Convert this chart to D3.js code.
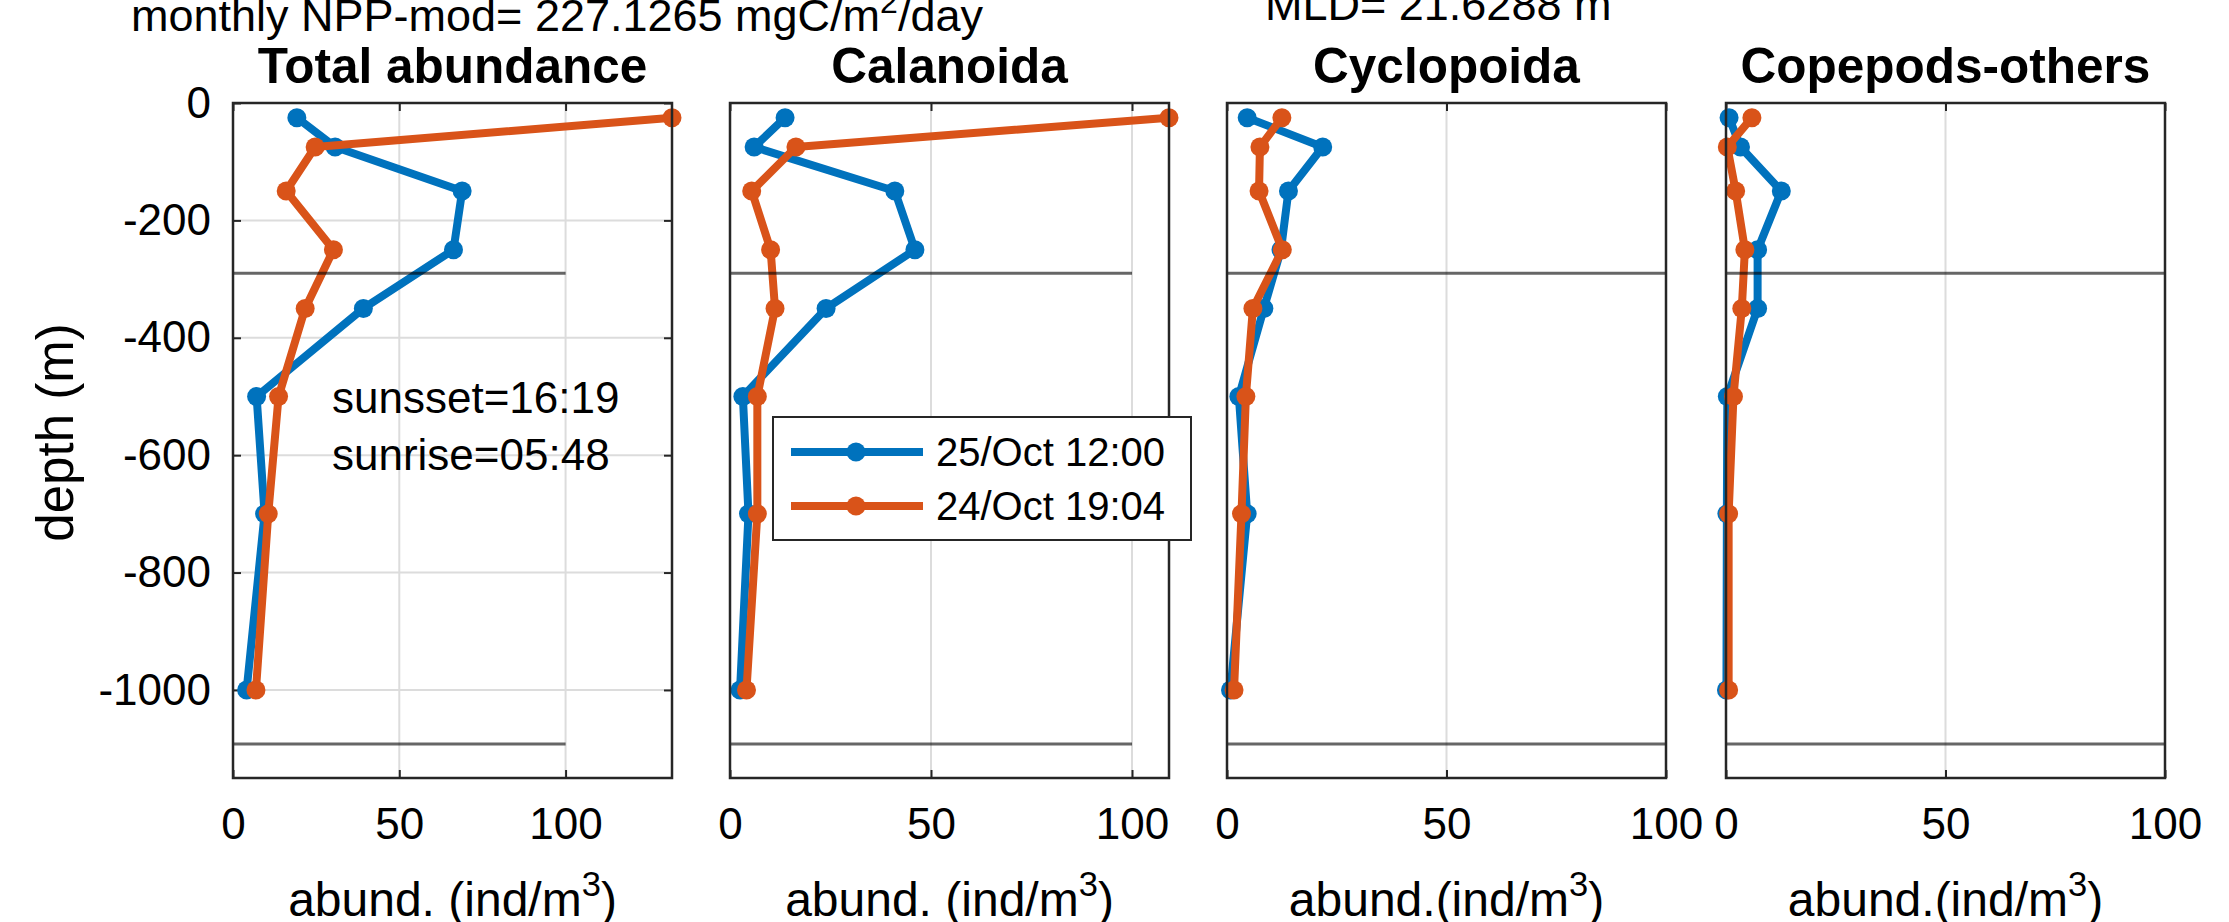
<!DOCTYPE html>
<html><head><meta charset="utf-8">
<script src="https://cdn.jsdelivr.net/npm/d3@7"></script>
<style>
body{margin:0;background:#fff}
svg{display:block}
text{font-family:"Liberation Sans",Arial,Helvetica,sans-serif;fill:#000}
</style>
</head><body><div id="chart"></div>
<script>
// ---------- data ----------
const depths = [25, 75, 150, 250, 350, 500, 700, 1000];
const panelTitles = ["Total abundance", "Calanoida", "Cyclopoida", "Copepods-others"];
const seriesNames = ["25/Oct 12:00", "24/Oct 19:04"];
const totalNoon     = [19.2, 30.7, 68.9, 66.3, 39.2, 7.1, 9.5, 4.1];
const totalEvening  = [132, 24.7, 16.0, 30.2, 21.7, 13.7, 10.6, 6.9];
const calanNoon     = [13.7, 6.0, 41.0, 46.0, 23.9, 3.2, 4.6, 2.5];
const calanEvening  = [109.2, 16.4, 5.4, 10.1, 11.2, 6.8, 6.8, 4.1];
const cycloNoon     = [4.6, 21.8, 14.0, 12.3, 8.4, 2.7, 4.6, 0.8];
const cycloEvening  = [12.5, 7.5, 7.3, 12.6, 5.9, 4.3, 3.3, 1.6];
const otherNoon     = [0.7, 3.3, 12.6, 7.2, 7.2, 0.3, 0.2, 0.1];
const otherEvening  = [5.9, 0.3, 2.2, 4.3, 3.6, 1.7, 0.6, 0.6];
const xMaxes = [132, 109.2, 100, 100];
const xTicks = [0, 50, 100];
const yTicks = [0, -200, -400, -600, -800, -1000];
const yDomain = [-1150, 0];
const refDepths = [-290, -1092];
const refXMax = [100, 100, 100, 100];
const xLabelTexts = ["abund. (ind/m", "abund. (ind/m", "abund.(ind/m", "abund.(ind/m"];
const yLabelText = "depth (m)";
const nppText = ["monthly NPP-mod= 227.1265 mgC/m", "2", "/day"];
const mldText = "MLD= 21.6288 m";
const sunTexts = ["sunsset=16:19", "sunrise=05:48"];

const panelSeries = [
  [totalNoon, totalEvening],
  [calanNoon, calanEvening],
  [cycloNoon, cycloEvening],
  [otherNoon, otherEvening]
];
const colors = ["#0072BD", "#D95319"];

// ---------- layout ----------
const W = 2229, H = 922;
const panelLeft = [233, 730, 1227, 1726];
const panelW = 439;
const axTop = 103, axBottom = 778;
const tickFont = 44, labelFont = 48, yLabelFont = 51, titleFont = 49.5, legendFont = 40;
const axisColor = "#262626";
const lineW = 8, markR = 9.5;
const fmt = d => String(d);   // plain hyphen-minus like the reference

const svg = d3.select("#chart").append("svg").attr("width", W).attr("height", H);

const y = d3.scaleLinear().domain(yDomain).range([axBottom, axTop]);

panelSeries.forEach((series, i) => {
  const x = d3.scaleLinear().domain([0, xMaxes[i]]).range([panelLeft[i], panelLeft[i] + panelW]);
  const g = svg.append("g");

  // grid
  g.selectAll(".vg").data(xTicks.filter(t => t > 0 && t < xMaxes[i])).enter().append("line")
    .attr("x1", d => x(d)).attr("x2", d => x(d)).attr("y1", axTop).attr("y2", axBottom)
    .attr("stroke", "#dcdcdc").attr("stroke-width", 2);
  if (i === 0) {
    g.selectAll(".hg").data(yTicks.filter(t => t < 0)).enter().append("line")
      .attr("x1", panelLeft[i]).attr("x2", panelLeft[i] + panelW)
      .attr("y1", d => y(d)).attr("y2", d => y(d))
      .attr("stroke", "#dcdcdc").attr("stroke-width", 2);
  }

  // x axes (bottom labels, ticks inward top & bottom)
  const xb = d3.axisBottom(x).tickValues(xTicks).tickSize(-8).tickPadding(30).tickFormat(fmt);
  const gxb = g.append("g").attr("transform", `translate(0,${axBottom})`).call(xb);
  gxb.select(".domain").remove();
  gxb.selectAll(".tick line").attr("stroke", axisColor).attr("stroke-width", 2);
  gxb.selectAll(".tick text").attr("font-size", tickFont).attr("fill", "#000")
    .attr("font-family", '"Liberation Sans",Arial,sans-serif');
  const xt = d3.axisTop(x).tickValues(xTicks).tickSize(-8).tickFormat("");
  const gxt = g.append("g").attr("transform", `translate(0,${axTop})`).call(xt);
  gxt.select(".domain").remove();
  gxt.selectAll(".tick line").attr("stroke", axisColor).attr("stroke-width", 2);

  if (i === 0) {
    const yl = d3.axisLeft(y).tickValues(yTicks).tickSize(-8).tickPadding(22).tickFormat(fmt);
    const gyl = g.append("g").attr("transform", `translate(${panelLeft[i]},0)`).call(yl);
    gyl.select(".domain").remove();
    gyl.selectAll(".tick line").attr("stroke", axisColor).attr("stroke-width", 2);
    gyl.selectAll(".tick text").attr("font-size", tickFont).attr("fill", "#000")
      .attr("font-family", '"Liberation Sans",Arial,sans-serif');
    const yr = d3.axisRight(y).tickValues(yTicks).tickSize(-8).tickFormat("");
    const gyr = g.append("g").attr("transform", `translate(${panelLeft[i] + panelW},0)`).call(yr);
    gyr.select(".domain").remove();
    gyr.selectAll(".tick line").attr("stroke", axisColor).attr("stroke-width", 2);
  }

  // data lines
  series.forEach((vals, s) => {
    const pts = vals.map((v, k) => [x(v), y(-depths[k])]);
    g.append("path").attr("d", d3.line()(pts)).attr("fill", "none")
      .attr("stroke", colors[s]).attr("stroke-width", lineW).attr("stroke-linejoin", "round");
    g.selectAll(null).data(pts).enter().append("circle")
      .attr("cx", d => d[0]).attr("cy", d => d[1]).attr("r", markR).attr("fill", colors[s]);
  });

  // reference depth lines
  g.selectAll(".ref").data(refDepths).enter().append("line")
    .attr("x1", x(0)).attr("x2", x(refXMax[i]))
    .attr("y1", d => y(d)).attr("y2", d => y(d))
    .attr("stroke", "rgba(0,0,0,0.6)").attr("stroke-width", 3);

  // box
  g.append("rect").attr("x", panelLeft[i]).attr("y", axTop).attr("width", panelW).attr("height", axBottom - axTop)
    .attr("fill", "none").attr("stroke", axisColor).attr("stroke-width", 2.5);

  // title
  g.append("text").attr("x", panelLeft[i] + panelW / 2).attr("y", 83)
    .attr("text-anchor", "middle").attr("font-size", titleFont).attr("font-weight", "bold")
    .text(panelTitles[i]);

  // x label
  const xlab = g.append("text").attr("x", panelLeft[i] + panelW / 2).attr("y", 916)
    .attr("text-anchor", "middle").attr("font-size", labelFont);
  xlab.append("tspan").text(xLabelTexts[i]);
  xlab.append("tspan").attr("dy", -20).attr("font-size", labelFont * 0.72).text("3");
  xlab.append("tspan").attr("dy", 20).text(")");
});

// y label
svg.append("text").attr("transform", `translate(73,${(axTop + axBottom) / 2 - 8}) rotate(-90)`)
  .attr("text-anchor", "middle").attr("font-size", yLabelFont).text(yLabelText);

// header texts
const npp = svg.append("text").attr("x", 131).attr("y", 31).attr("font-size", 45);
npp.append("tspan").text(nppText[0]);
npp.append("tspan").attr("dy", -18).attr("font-size", 32).text(nppText[1]);
npp.append("tspan").attr("dy", 18).text(nppText[2]);
svg.append("text").attr("x", 1265).attr("y", 20).attr("font-size", 45).text(mldText);

// sunset / sunrise
sunTexts.forEach((t, k) => {
  svg.append("text").attr("x", 332).attr("y", 413 + k * 57).attr("font-size", tickFont).text(t);
});

// legend
const lg = svg.append("g");
lg.append("rect").attr("x", 773).attr("y", 417).attr("width", 418).attr("height", 123)
  .attr("fill", "#fff").attr("stroke", axisColor).attr("stroke-width", 2);
seriesNames.forEach((name, s) => {
  const cy = 452 + s * 54;
  lg.append("line").attr("x1", 791).attr("x2", 923).attr("y1", cy).attr("y2", cy)
    .attr("stroke", colors[s]).attr("stroke-width", lineW);
  lg.append("circle").attr("cx", 856).attr("cy", cy).attr("r", markR).attr("fill", colors[s]);
  lg.append("text").attr("x", 936).attr("y", cy).attr("dy", "0.35em").attr("font-size", legendFont).text(name);
});
</script>
</body></html>
